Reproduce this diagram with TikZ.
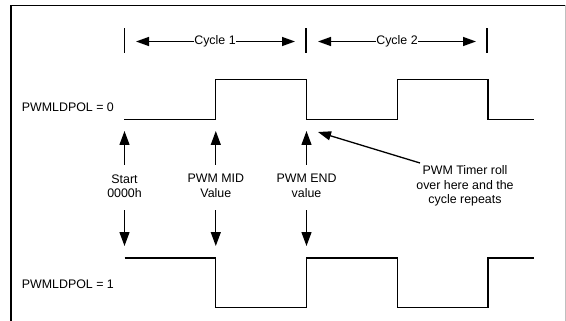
\documentclass[tikz,border=0pt]{standalone}
\usepackage{fontspec}
\setmainfont{Liberation Sans}
\usetikzlibrary{arrows.meta}
\begin{document}
\begin{tikzpicture}[x=1pt,y=-1pt,
  wave/.style={line width=1.3pt,line join=miter},
  arr/.style={line width=1.3pt,-{Triangle[length=14pt,width=10pt]}},
  harr/.style={line width=1.3pt,-{Triangle[length=13pt,width=9pt]}},
  tick/.style={line width=1.3pt},
  lbl/.style={font=\fontsize{12.4}{14.5}\selectfont,inner sep=0pt,align=center},
  frame/.style={line width=1.3pt}]
\useasboundingbox (0,0) rectangle (566,321);
% frame
\coordinate (fbl) at (11,321);
\coordinate (ftl) at (11,5.5);
\coordinate (ftr) at (565,5.5);
\coordinate (fbr) at (565,321);
\draw[frame] (fbl) -- (ftl) -- (ftr);
\draw[gray!50,line width=0.8pt] (ftr) -- (fbr);
% cycle ticks
\foreach \n/\x in {t0/124.7,t1/306,t2/487}{
  \coordinate (\n a) at (\x,28.5);
  \coordinate (\n b) at (\x,53);
  \draw[tick] (\n a) -- (\n b);
}
% cycle arrows
\node[lbl] (cyc1) at (215,41.5) {Cycle 1};
\node[lbl] (cyc2) at (397,41.5) {Cycle 2};
\coordinate (c1l) at (136,41.5);
\coordinate (c1r) at (295,41.5);
\coordinate (c2l) at (318,41.5);
\coordinate (c2r) at (476,41.5);
\draw[harr] (cyc1.west) -- (c1l);
\draw[harr] (cyc1.east) -- (c1r);
\draw[harr] (cyc2.west) -- (c2l);
\draw[harr] (cyc2.east) -- (c2r);
% labels
\node[lbl,anchor=west] (pol0) at (21.7,107) {PWMLDPOL = 0};
\node[lbl,anchor=west] (pol1) at (21.7,284) {PWMLDPOL = 1};
% waveforms
\draw[wave] (124,119.3) -- (215.8,119.3) -- (215.8,79.5) -- (306.5,79.5) -- (306.5,119.3) -- (397.5,119.3) -- (397.5,79.5) -- (488,79.5) -- (488,119.3) -- (533.8,119.3);
\draw[wave] (124.7,258) -- (215.8,258) -- (215.8,307.5) -- (306.5,307.5) -- (306.5,258) -- (397.5,258) -- (397.5,307.5) -- (488,307.5) -- (488,258) -- (533.8,258);
% event labels and arrows
\foreach \n/\x/\t in {st/124.5/{Start\\0000h},mid/215.8/{PWM MID\\Value},en/306.5/{PWM END\\value}}{
  \node[lbl] (\n) at (\x,186) {\t};
  \coordinate (\n ut) at (\x,165);
  \coordinate (\n uh) at (\x,131);
  \coordinate (\n dt) at (\x,210);
  \coordinate (\n dh) at (\x,246);
  \draw[arr] (\n ut) -- (\n uh);
  \draw[arr] (\n dt) -- (\n dh);
}
% timer roll over note
\node[lbl] (roll) at (465,186) {PWM Timer roll\\over here and the\\cycle repeats};
\coordinate (rolltail) at (420,163);
\coordinate (rollhead) at (318,132);
\draw[harr] (rolltail) -- (rollhead);
\end{tikzpicture}
\end{document}
